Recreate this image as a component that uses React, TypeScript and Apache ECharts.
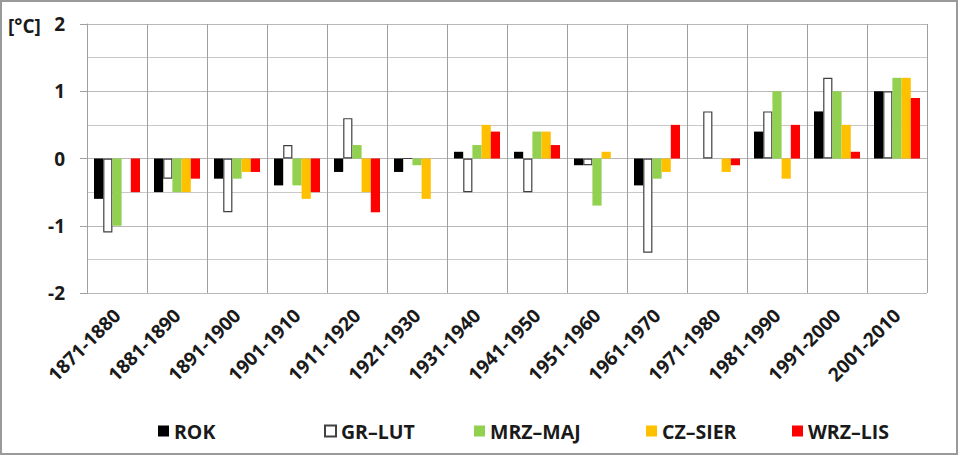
import React, { useEffect, useRef } from "react";
import * as echarts from "echarts";

const categories = [
  "1871-1880", "1881-1890", "1891-1900", "1901-1910", "1911-1920", "1921-1930", "1931-1940",
  "1941-1950", "1951-1960", "1961-1970", "1971-1980", "1981-1990", "1991-2000", "2001-2010",
];
const rok = [-0.6, -0.5, -0.3, -0.4, -0.2, -0.2, 0.1, 0.1, -0.1, -0.4, 0, 0.4, 0.7, 1.0];
const grLut = [-1.1, -0.3, -0.8, 0.2, 0.6, 0, -0.5, -0.5, -0.1, -1.4, 0.7, 0.7, 1.2, 1.0];
const mrzMaj = [-1.0, -0.5, -0.3, -0.4, 0.2, -0.1, 0.2, 0.4, -0.7, -0.3, 0, 1.0, 1.0, 1.2];
const czSier = [0, -0.5, -0.2, -0.6, -0.5, -0.6, 0.5, 0.4, 0.1, -0.2, -0.2, -0.3, 0.5, 1.2];
const wrzLis = [-0.5, -0.3, -0.2, -0.5, -0.8, 0, 0.4, 0.2, 0, 0.5, -0.1, 0.5, 0.1, 0.9];

const seriesNames = ["ROK", "GR–LUT", "MRZ–MAJ", "CZ–SIER", "WRZ–LIS"];
const legendLefts = [158, 324, 474, 646, 792];
const yMin = -2;
const yMax = 2;
const yInterval = 1;

const FONT = "'Open Sans', 'Noto Sans', sans-serif";
const TEXT = "#1a1a1a";

export default function App() {
  const ref = useRef<HTMLDivElement>(null);
  useEffect(() => {
    if (!ref.current) return;
    const chart = echarts.init(ref.current, null, { renderer: "svg" });
    const styles = [
      { color: "#000000" },
      { color: "#ffffff", borderColor: "#404040", borderWidth: 1.2 },
      { color: "#92d050" },
      { color: "#ffc000" },
      { color: "#ff0000" },
    ];
    const datas = [rok, grLut, mrzMaj, czSier, wrzLis];
    chart.setOption({
      animation: false,
      backgroundColor: "#ffffff",
      grid: { left: 87, right: 33, top: 24, bottom: 163 },
      legend: seriesNames.map((n, i) => ({
        data: [n],
        left: legendLefts[i],
        top: 421,
        padding: 0,
        icon: "rect",
        itemWidth: 11,
        itemHeight: 11,
        textStyle: { fontFamily: FONT, fontSize: 19.5, fontWeight: "bold", color: TEXT },
      })),
      xAxis: {
        type: "category",
        data: categories,
        boundaryGap: true,
        axisLine: { show: false },
        axisTick: { show: false },
        splitLine: { show: true, lineStyle: { color: "#a0a0a0", width: 1 } },
        axisLabel: {
          interval: 0,
          rotate: 45,
          margin: 19,
          fontFamily: FONT,
          fontSize: 19,
          fontWeight: "bold",
          color: TEXT,
        },
      },
      yAxis: {
        type: "value",
        min: yMin,
        max: yMax,
        interval: yInterval,
        axisLine: { show: true, lineStyle: { color: "#a0a0a0" } },
        axisTick: { show: true, length: 7, lineStyle: { color: "#a0a0a0" } },
        minorTick: { show: false, splitNumber: 2 },
        minorSplitLine: { show: true, lineStyle: { color: "#c8c8c8", width: 1 } },
        splitLine: { show: true, lineStyle: { color: "#b8b8b8", width: 1 } },
        axisLabel: {
          margin: 22,
          fontFamily: FONT,
          fontSize: 19,
          fontWeight: "bold",
          color: TEXT,
        },
      },
      series: seriesNames.map((n, i) => ({
        name: n,
        type: "bar",
        data: datas[i],
        barWidth: 9.2,
        barGap: "0%",
        itemStyle: styles[i],
      })),
      graphic: [
        {
          type: "rect",
          shape: { x: 1, y: 1, width: 956, height: 453 },
          style: { fill: "none", stroke: "#9a9a9a", lineWidth: 2 },
          silent: true,
        },
        {
          type: "text",
          x: 8,
          y: 26,
          style: {
            text: "[°C]",
            fontFamily: FONT,
            fontSize: 19,
            fontWeight: "bold",
            fill: TEXT,
            verticalAlign: "middle",
          },
        },
      ],
    });
    return () => chart.dispose();
  }, []);
  return (
    <div
      ref={ref}
      style={{ position: "absolute", left: 0, top: 0, width: 960, height: 456 }}
    />
  );
}
